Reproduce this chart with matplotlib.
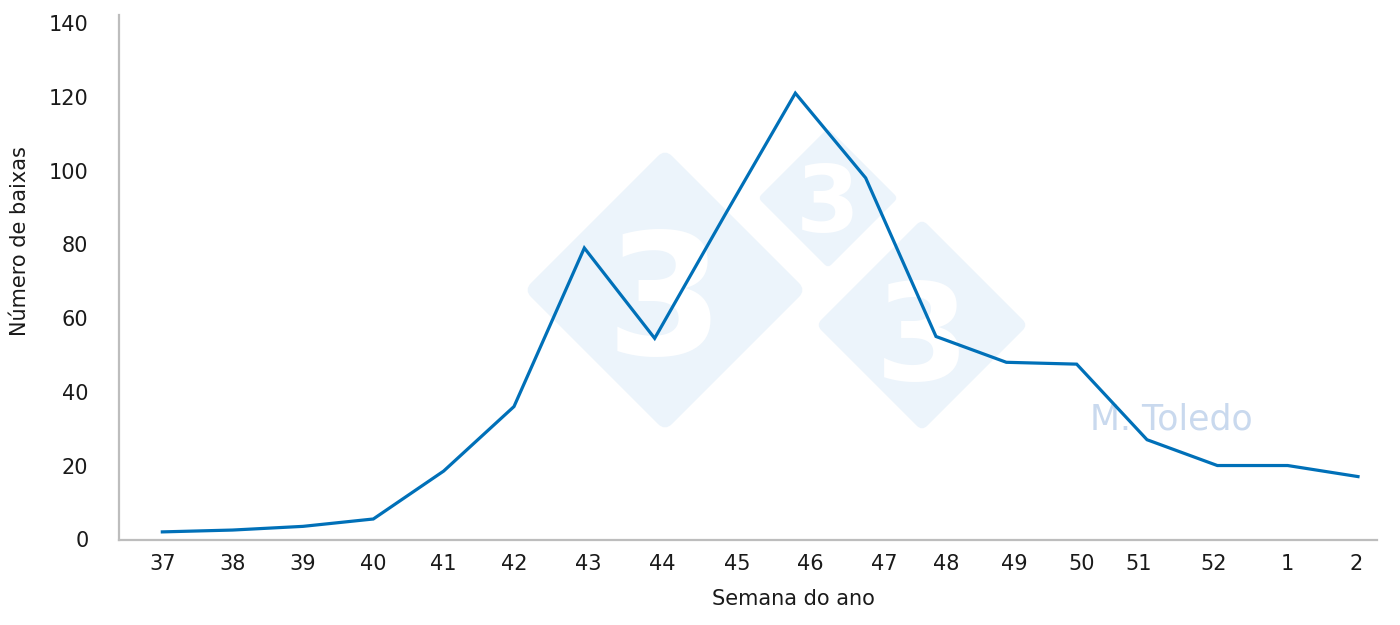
import numpy as np
import matplotlib
matplotlib.use("Agg")
import matplotlib.pyplot as plt
import matplotlib.patches as mpatches
from matplotlib.transforms import Affine2D

# ---------------------------------------------------------------------------
# data
# ---------------------------------------------------------------------------
weeks = ["37", "38", "39", "40", "41", "42", "43", "44", "45",
         "46", "47", "48", "49", "50", "51", "52", "1", "2"]
deaths = [2, 2.5, 3.5, 5.5, 18.5, 36, 79, 54.5, 88,
          121, 98, 55, 48, 47.5, 27, 20, 20, 17]
y_ticks = [0, 20, 40, 60, 80, 100, 120, 140]

# the week labels in the original export drift a little off their points
label_shift = [0, 0, 0, 0, 0, 0, 0.05, 0.11, 0.17,
               0.22, 0.26, 0.14, 0.11, 0.07, -0.12, -0.05, 0, -0.03]

LINE = "#0070b8"
SPINE = "#bdbdbd"
WM_FILL = "#ecf4fb"
WM_TEXT = "#c9d9ee"

plt.rcParams["font.family"] = ["DejaVu Sans"]

fig = plt.figure(figsize=(14, 6.25), dpi=100)

# ---------------------------------------------------------------------------
# watermark layer (pixel coordinates, behind the chart)
# ---------------------------------------------------------------------------
bg = fig.add_axes([0, 0, 1, 1], zorder=0)
bg.set_xlim(0, 1400)
bg.set_ylim(625, 0)
bg.axis("off")


def _diamond(cx, cy, half, fs, dy):
    side = half * np.sqrt(2)
    r = side * 0.05
    box = mpatches.FancyBboxPatch(
        (cx - side / 2 + r, cy - side / 2 + r), side - 2 * r, side - 2 * r,
        boxstyle=f"round,pad={r}", facecolor=WM_FILL, edgecolor="none",
    )
    box.set_transform(Affine2D().rotate_deg_around(cx, cy, 45) + bg.transData)
    bg.add_patch(box)
    bg.text(cx, cy + dy, "3", ha="center", va="center", fontsize=fs,
            fontweight="bold", color="white")


_diamond(665, 290, 141, 122, 18)
_diamond(828, 198, 70, 66, 8)
_diamond(922, 325, 106, 98, 18)
bg.text(1171, 419, "M. Toledo", ha="center", va="center", fontsize=25,
        color=WM_TEXT)

# ---------------------------------------------------------------------------
# main chart
# ---------------------------------------------------------------------------
ax = fig.add_axes([119 / 1400, 1 - 540 / 625, (1377 - 119) / 1400,
                   (540 - 15) / 625], zorder=1)
ax.patch.set_alpha(0)

x = np.arange(len(weeks))
ax.plot(x, deaths, color=LINE, lw=2.3, solid_joinstyle="miter")

ax.set_xlim(-0.616, 17.27)
ax.set_ylim(-0.2, 142.2)

ax.set_xticks(x + np.array(label_shift))
ax.set_xticklabels(weeks)
ax.set_yticks(y_ticks)
ax.tick_params(axis="both", length=0, labelsize=15, labelcolor="#1a1a1a")
ax.tick_params(axis="x", pad=10)
ax.tick_params(axis="y", pad=22)

for side in ("top", "right"):
    ax.spines[side].set_visible(False)
for side in ("left", "bottom"):
    ax.spines[side].set_color(SPINE)
    ax.spines[side].set_linewidth(1.6)

ax.set_xlabel("Semana do ano", fontsize=15, color="#1a1a1a")
ax.xaxis.set_label_coords((793 - 119) / 1258, (540 - 589) / 525)
ax.set_ylabel("Número de baixas", fontsize=15, color="#1a1a1a")
ax.yaxis.set_label_coords((30 - 119) / 1258, (540 - 241) / 525)

fig.savefig("out.png", dpi=100)
plt.close(fig)
